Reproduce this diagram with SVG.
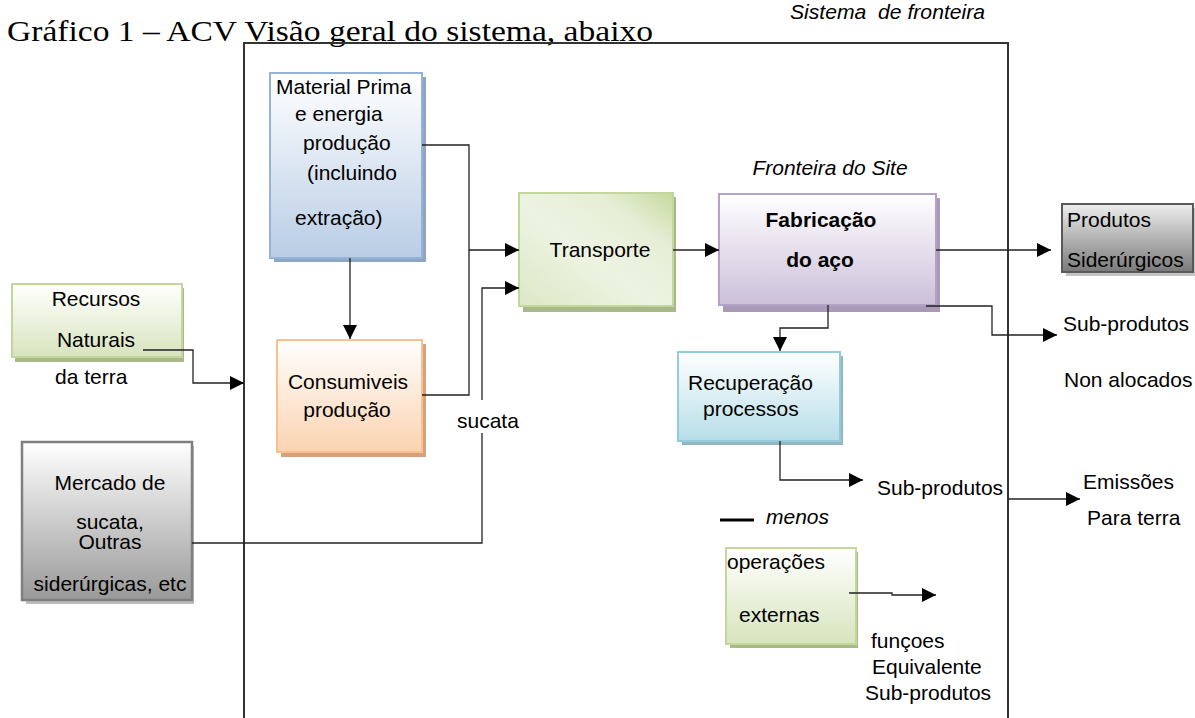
<svg xmlns="http://www.w3.org/2000/svg" width="1195" height="718" viewBox="0 0 1195 718">
<defs>
<linearGradient id="gBlue" x1="0" y1="0" x2="0" y2="1"><stop offset="0" stop-color="#ffffff"/><stop offset="1" stop-color="#b9cde5"/></linearGradient>
<linearGradient id="gPeach" x1="0" y1="0" x2="0" y2="1"><stop offset="0" stop-color="#ffffff"/><stop offset="1" stop-color="#fbd3b0"/></linearGradient>
<linearGradient id="gGreen" x1="0" y1="0" x2="0" y2="1"><stop offset="0" stop-color="#ffffff"/><stop offset="1" stop-color="#d7e4bd"/></linearGradient>
<linearGradient id="gTrans" x1="0" y1="1" x2="1" y2="0"><stop offset="0" stop-color="#dde8c6"/><stop offset="0.45" stop-color="#edf3e2"/><stop offset="0.75" stop-color="#e6eed6"/><stop offset="1" stop-color="#c6d99f"/></linearGradient>
<linearGradient id="gPurple" x1="0" y1="0" x2="0" y2="1"><stop offset="0" stop-color="#ffffff"/><stop offset="1" stop-color="#ccc0da"/></linearGradient>
<linearGradient id="gCyan" x1="0" y1="0" x2="0" y2="1"><stop offset="0" stop-color="#ffffff"/><stop offset="1" stop-color="#b7dee8"/></linearGradient>
<linearGradient id="gGrayW" x1="0" y1="0" x2="0" y2="1"><stop offset="0" stop-color="#ffffff"/><stop offset="1" stop-color="#999999"/></linearGradient>
<linearGradient id="gGrayD" x1="0" y1="0" x2="0" y2="1"><stop offset="0" stop-color="#eeeeee"/><stop offset="1" stop-color="#7a7a7a"/></linearGradient>
<marker id="arr" markerUnits="userSpaceOnUse" markerWidth="15" markerHeight="15" refX="14" refY="7" orient="auto"><path d="M0,0 L14,7 L0,14 z" fill="#000"/></marker>
</defs>
<style>
text{font-family:"Liberation Sans",Arial,sans-serif;font-size:21px;fill:#000}
.c{text-anchor:middle}
.it{font-style:italic}
.b{font-weight:bold}
.ttl{font-family:"Liberation Serif","Times New Roman",serif;font-size:30px}
.con{fill:none;stroke:#222;stroke-width:1.3}
.arw{marker-end:url(#arr)}
.bnd{fill:none;stroke:#333;stroke-width:2}
</style>
<text class="ttl" x="7" y="41" textLength="646" lengthAdjust="spacingAndGlyphs">Gráfico 1 – ACV Visão geral do sistema, abaixo</text>
<text class="it" x="790" y="19" font-size="20" textLength="195" lengthAdjust="spacingAndGlyphs">Sistema&#160; de fronteira</text>
<path class="bnd" d="M244,718 V43 H1008 V718"/>
<g id="material">
<rect x="274" y="77" width="152" height="185" fill="#8ea5c3"/>
<rect x="270" y="73" width="152" height="185" fill="url(#gBlue)" stroke="#95b3d7" stroke-width="2"/>
<text x="276" y="94">Material Prima</text>
<text x="295" y="121">e energia</text>
<text x="303" y="150">produção</text>
<text x="307" y="180">(incluindo</text>
<text x="295" y="225">extração)</text>
</g>
<g id="consumiveis">
<rect x="281" y="344" width="145" height="113" fill="#d6a27e"/>
<rect x="277" y="340" width="145" height="112" fill="url(#gPeach)" stroke="#fac090" stroke-width="2"/>
<text class="c" x="348" y="389">Consumiveis</text>
<text class="c" x="347" y="417">produção</text>
</g>
<g id="transporte">
<rect x="523" y="197" width="153" height="115" fill="#a9b98a"/>
<rect x="519" y="193" width="154" height="113" fill="url(#gTrans)" stroke="#c3d69b" stroke-width="2"/>
<text class="c" x="600" y="257">Transporte</text>
</g>
<g id="fabricacao">
<rect x="723" y="198" width="217" height="114" fill="#a99bb8"/>
<rect x="719" y="194" width="217" height="111" fill="url(#gPurple)" stroke="#b3a2c7" stroke-width="2"/>
<text class="c b" x="821" y="227">Fabricação</text>
<text class="c b" x="820" y="267">do aço</text>
<text class="c it" x="830" y="175">Fronteira do Site</text>
</g>
<g id="recuperacao">
<rect x="682" y="356" width="161" height="89" fill="#93b6c0"/>
<rect x="678" y="352" width="162" height="89" fill="url(#gCyan)" stroke="#93cddd" stroke-width="2"/>
<text x="688" y="390">Recuperação</text>
<text x="703" y="416">processos</text>
</g>
<g id="recursos">
<rect x="15" y="288" width="169" height="74" fill="#a9b98a"/>
<rect x="12" y="284" width="170" height="73" fill="url(#gGreen)" stroke="#c3d69b" stroke-width="2"/>
<text class="c" x="96" y="306">Recursos</text>
<text class="c" x="96" y="347">Naturais</text>
<text x="55" y="384">da terra</text>
</g>
<g id="mercado">
<rect x="26" y="446" width="168" height="158" fill="#bdbdbd"/>
<rect x="22" y="442" width="170" height="158" fill="url(#gGrayW)" stroke="#7f7f7f" stroke-width="2.5"/>
<text class="c" x="110" y="490">Mercado de</text>
<text class="c" x="110" y="529">sucata,</text>
<text class="c" x="110" y="549">Outras</text>
<text class="c" x="110" y="591">siderúrgicas, etc</text>
</g>
<g id="produtos">
<rect x="1066" y="208" width="129" height="68" fill="#c4c4c4"/>
<rect x="1062" y="204" width="131" height="68" fill="url(#gGrayD)" stroke="#595959" stroke-width="2"/>
<text x="1067" y="227">Produtos</text>
<text x="1067" y="267">Siderúrgicos</text>
</g>
<g id="operacoes">
<rect x="730" y="552" width="128" height="96" fill="#a9b98a"/>
<rect x="726" y="548" width="130" height="96" fill="url(#gGreen)" stroke="#c3d69b" stroke-width="2"/>
<text x="727" y="569">operações</text>
<text x="739" y="622">externas</text>
</g>
<g id="labels">
<text x="457" y="428">sucata</text>
<text x="1063" y="331">Sub-produtos</text>
<text x="1064" y="387">Non alocados</text>
<text x="877" y="495">Sub-produtos</text>
<text x="1083" y="489">Emissões</text>
<text x="1087" y="525">Para terra</text>
<text class="it" x="766" y="524">menos</text>
<text x="871" y="648">funçoes</text>
<text x="872" y="674">Equivalente</text>
<text x="865" y="700">Sub-produtos</text>
</g>
<g id="connectors">
<path class="con arw" d="M422,145 H469 V250 H519"/>
<path class="con" d="M422,395 H469 V250"/>
<path class="con arw" d="M350,258 V339"/>
<path class="con" d="M192,543 H482 V433"/>
<path class="con arw" d="M482,400 V288 H519"/>
<path class="con arw" d="M143,350 H193 V383 H244"/>
<path class="con arw" d="M673,250 H719"/>
<path class="con arw" d="M936,250 H1051"/>
<path class="con arw" d="M926,306 H992 V335 H1057"/>
<path class="con arw" d="M828,305 V328 H780 V351"/>
<path class="con arw" d="M780,441 V480 H863"/>
<path class="con arw" d="M1008,499 H1080"/>
<path class="con arw" d="M849,593 H892 V595 H936"/>
<line x1="720" y1="520" x2="754" y2="520" stroke="#000" stroke-width="3"/>
</g>
</svg>
